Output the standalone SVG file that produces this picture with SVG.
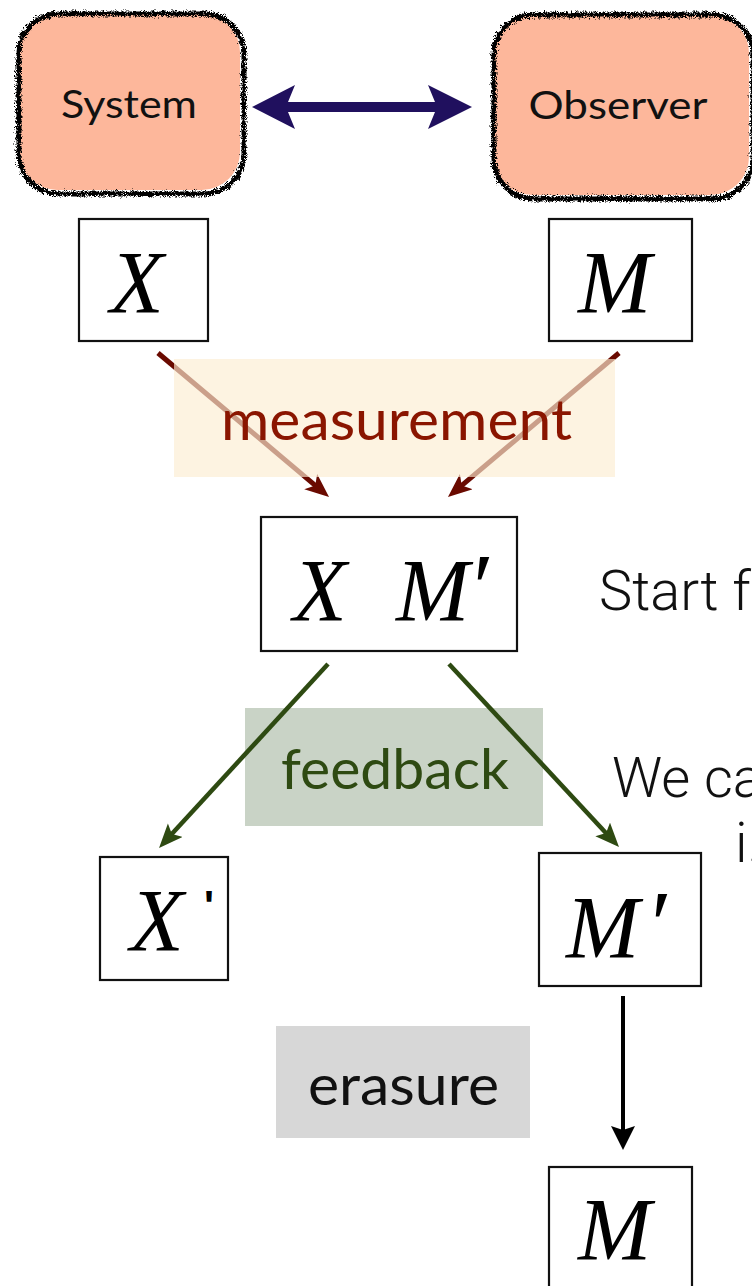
<svg xmlns="http://www.w3.org/2000/svg" width="752" height="1286" viewBox="0 0 752 1286">
<style>
.box{fill:#fff;stroke:#111;stroke-width:2.2}
.agent{fill:#FDB79B}
.agentEdge{fill:none;stroke:#000;stroke-width:5}
.agentText{font-family:"Gill Sans","Lato","Open Sans",sans-serif;font-size:38px;fill:#111}
.math{font-family:"Liberation Serif","Times New Roman",serif;font-style:italic;font-size:88px;fill:#000}
.prime{font-style:normal;font-size:96px}
.label{font-family:"Gill Sans","Lato","Open Sans",sans-serif;font-size:56px}
.note{font-family:"Helvetica Neue","Roboto","Liberation Sans",sans-serif;font-weight:300;font-size:56px;fill:#111}
.red{stroke:#6A0A00;stroke-width:5;fill:none}
.green{stroke:#2E4A12;stroke-width:4.5;fill:none}
.black{stroke:#000;stroke-width:4;fill:none}
</style>
<defs>
<filter id="rough" x="-10%" y="-10%" width="120%" height="120%">
<feTurbulence type="turbulence" baseFrequency="1.1" numOctaves="2" seed="7" result="n"/>
<feDisplacementMap in="SourceGraphic" in2="n" scale="7" xChannelSelector="R" yChannelSelector="G"/>
</filter>
<marker id="hRed" markerUnits="userSpaceOnUse" markerWidth="26" markerHeight="22" refX="14" refY="10" orient="auto">
<path d="M0,0 L24,10 L0,20 L6,10 Z" fill="#6A0A00"/>
</marker>
<marker id="hGreen" markerUnits="userSpaceOnUse" markerWidth="26" markerHeight="22" refX="14" refY="10" orient="auto">
<path d="M0,0 L24,10 L0,20 L5,10 Z" fill="#2E4A12"/>
</marker>
<marker id="hBlack" markerUnits="userSpaceOnUse" markerWidth="26" markerHeight="26" refX="14" refY="12" orient="auto">
<path d="M0,0 L24,12 L0,24 L4,12 Z" fill="#000"/>
</marker>
</defs>

<g id="system">
<rect class="agent" x="19" y="14" width="221" height="176" rx="38"/>
<rect class="agentEdge" x="17" y="12" width="225" height="180" rx="40" filter="url(#rough)"/>
<text class="agentText" x="129" y="118" text-anchor="middle" textLength="136" lengthAdjust="spacingAndGlyphs">System</text>
</g>
<g id="observer">
<rect class="agent" x="494" y="15" width="255" height="180" rx="38"/>
<rect class="agentEdge" x="492" y="13" width="259" height="184" rx="40" filter="url(#rough)"/>
<text class="agentText" x="618" y="119" text-anchor="middle" textLength="179" lengthAdjust="spacingAndGlyphs">Observer</text>
</g>

<g id="connectors">
<path d="M252,107 L295,85 L288,102 L435,102 L428,85 L472,107 L428,129 L435,112 L288,112 L295,129 Z" fill="#20105E"/>
<line class="red" x1="158" y1="353" x2="321.4" y2="490.6" marker-end="url(#hRed)"/>
<line class="red" x1="619" y1="353" x2="455.6" y2="490.6" marker-end="url(#hRed)"/>
</g>

<g id="measurement">
<rect x="174" y="359" width="441" height="118" fill="#FCEDD1" opacity="0.66"/>
<text class="label" x="221" y="440" fill="#8A1500" textLength="351" lengthAdjust="spacingAndGlyphs">measurement</text>
</g>

<g id="feedback">
<rect x="245" y="708" width="298" height="118" fill="#C9D3C6"/>
<text class="label" x="281" y="789" fill="#2E4A12" textLength="228" lengthAdjust="spacingAndGlyphs">feedback</text>
</g>

<g id="erasure">
<rect x="276" y="1026" width="254" height="112" fill="#D7D7D7"/>
<text class="label" x="308" y="1105" fill="#111" textLength="191" lengthAdjust="spacingAndGlyphs">erasure</text>
</g>

<g id="connectors2">
<line class="green" x1="328" y1="664" x2="165.8" y2="840.6" marker-end="url(#hGreen)"/>
<line class="green" x1="449" y1="664" x2="612.2" y2="839.7" marker-end="url(#hGreen)"/>
<line class="black" x1="623" y1="996" x2="623" y2="1140" marker-end="url(#hBlack)"/>
</g>

<g id="nodeX">
<rect class="box" x="79" y="219" width="129" height="122"/>
<text class="math" x="110" y="312">X</text>
</g>
<g id="nodeM">
<rect class="box" x="549" y="219" width="143" height="122"/>
<text class="math" x="578" y="312">M</text>
</g>
<g id="nodeXM">
<rect class="box" x="261" y="517" width="256" height="134"/>
<text class="math" y="620"><tspan x="293">X</tspan><tspan x="396">M</tspan><tspan class="prime" x="473">′</tspan></text>
</g>
<g id="nodeX2">
<rect class="box" x="100" y="857" width="128" height="123"/>
<text class="math" y="950"><tspan x="130">X</tspan><tspan x="204" y="920" font-family="Liberation Sans, sans-serif" font-style="normal" font-weight="bold" font-size="42">'</tspan></text>
</g>
<g id="nodeM2">
<rect class="box" x="539" y="853" width="162" height="133"/>
<text class="math" y="957"><tspan x="566">M</tspan><tspan class="prime" x="651">′</tspan></text>
</g>
<g id="nodeM3">
<rect class="box" x="549" y="1167" width="143" height="140"/>
<text class="math" x="578" y="1259">M</text>
</g>

<g id="notes">
<text class="note" x="599" y="610">Start f</text>
<text class="note" x="612" y="797">We ca</text>
<text class="note" x="735" y="862">i.</text>
</g>
</svg>
